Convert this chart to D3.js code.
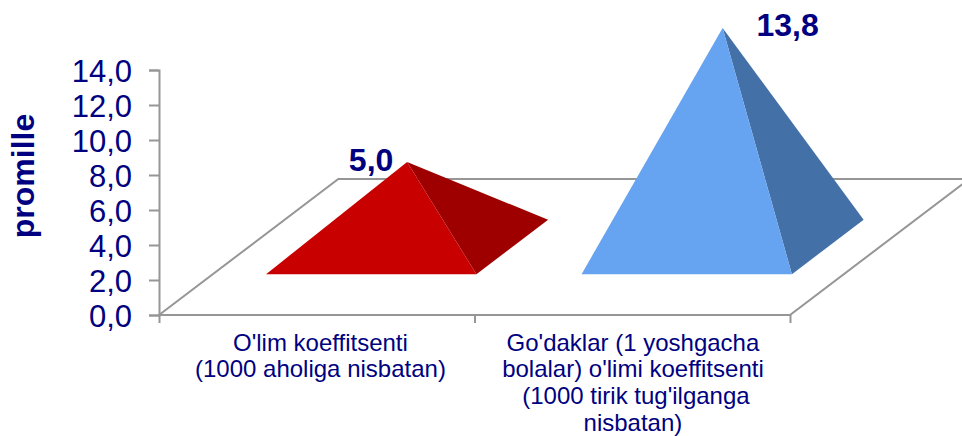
<!DOCTYPE html>
<html><head><meta charset="utf-8">
<script src="https://cdnjs.cloudflare.com/ajax/libs/d3/7.8.5/d3.min.js"></script>
<style>html,body{margin:0;padding:0;background:#fff}svg{display:block}text{font-family:"Liberation Sans",Arial,sans-serif;fill:#000080}</style>
</head><body><svg id="c" width="962" height="436"></svg>
<script>
const categories = ["O'lim koeffitsenti (1000 aholiga nisbatan)", "Go'daklar (1 yoshgacha bolalar) o'limi koeffitsenti (1000 tirik tug'ilganga nisbatan)"];
const categoryLines = [["O'lim koeffitsenti","(1000 aholiga nisbatan)"],["Go'daklar (1 yoshgacha","bolalar) o'limi koeffitsenti","(1000 tirik tug'ilganga","nisbatan)"]];
const values = [5.0, 13.8];
const valueTicks = [0,2,4,6,8,10,12,14];
const axisTitle = "promille";
const frontColors = ["#C80000","#66A3F0"];
const sideColors = ["#9E0000","#4470A8"];

const svg = d3.select("#c");
const comma = d => d3.format(".1f")(d).replace(".",",");
const y = d3.scaleLinear().domain([0,14]).range([315,70]);
const xEdge = d3.scaleLinear().domain([0,2]).range([159,790]);
const x = d3.scaleBand().domain(categories).range([159.7,790.7]).paddingInner(1/3).paddingOuter(1/6);
const depth = d3.scaleLinear().domain([0,1]).range([[0,0],[179.3,-136]]);
const heightPx = d3.scaleLinear().domain([0,5,13.8]).range([0,85,219]);
const project = (px,d) => { const o = depth(d); return [px+o[0], 315+o[1]]; };

const grey = "#969696";
svg.append("path").attr("fill","none").attr("stroke",grey).attr("stroke-width",2)
  .attr("d", d3.line()([project(159,0),project(159,1),project(830,1)]));
svg.append("path").attr("fill","none").attr("stroke",grey).attr("stroke-width",2)
  .attr("d", d3.line()([project(159,0),project(790,0),project(790,1)]));

const ya = svg.append("g").attr("transform","translate(159,0)")
  .call(d3.axisLeft(y).tickValues(valueTicks).tickFormat(comma).tickSize(10).tickPadding(17));
ya.selectAll("path,line").attr("stroke",grey).attr("stroke-width",2);
ya.selectAll("text").style("font-size","31px").attr("dy","0.36em").attr("font-family",null);
const xa = svg.append("g").attr("transform","translate(0,315)")
  .call(d3.axisBottom(xEdge).tickValues([0,1,2]).tickFormat("").tickSize(8).tickSizeOuter(0));
xa.selectAll("path").remove();
xa.selectAll("line").attr("stroke",grey).attr("stroke-width",2);

const dFront = 0.30, dBack = 0.70;
const labelOffset = [-36, 65], labelBaseline = [171, 36];
const labelShift = [[3,3],[0,0,3,0]];
categories.forEach((c,i)=>{
  const x0 = x(c), x1 = x0 + x.bandwidth();
  const fl = project(x0,dFront), fr = project(x1,dFront), br = project(x1,dBack);
  const cx = (fl[0]+br[0])/2, cy = (fl[1]+br[1])/2;
  const apex = [cx, cy - heightPx(values[i])];
  svg.append("path").attr("fill",sideColors[i]).attr("d", d3.line()([fr,br,apex])+"Z");
  svg.append("path").attr("fill",frontColors[i]).attr("d", d3.line()([fl,fr,apex])+"Z");
  svg.append("text").attr("x",apex[0]+labelOffset[i]).attr("y",labelBaseline[i])
    .attr("text-anchor","middle").attr("font-weight","bold").style("font-size","32px").text(comma(values[i]));
  const t = svg.append("text").attr("text-anchor","middle").style("font-size","24px");
  categoryLines[i].forEach((l,j)=>{
    t.append("tspan").attr("x",x0+x.bandwidth()/2+labelShift[i][j]).attr("y",350.5+j*26.7).text(l);
  });
});

svg.append("text").attr("transform","translate(34,176) rotate(-90)").attr("text-anchor","middle")
  .attr("font-weight","bold").style("font-size","32px").text(axisTitle);
</script></body></html>
